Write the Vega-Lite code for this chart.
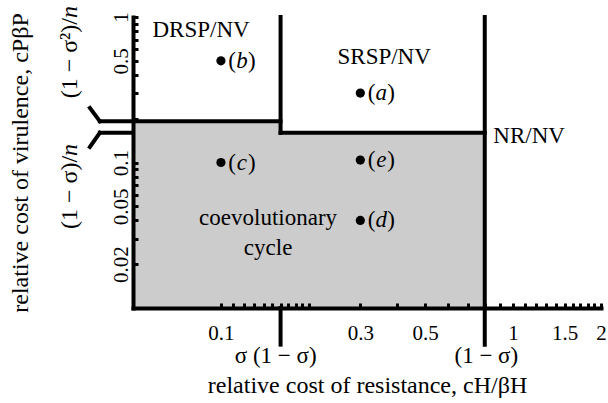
{
  "$schema": "https://vega.github.io/schema/vega-lite/v6.json",
  "width": 468,
  "height": 291,
  "autosize": "none",
  "padding": {"left": 133, "top": 17, "right": 7, "bottom": 95},
  "background": "white",
  "config": {
    "font": "Liberation Serif",
    "view": {"stroke": null},
    "axis": {
      "grid": false,
      "domainColor": "black",
      "domainWidth": 4,
      "domainCap": "square",
      "tickColor": "black",
      "tickWidth": 3,
      "tickSize": -5,
      "labelColor": "black",
      "labelFontSize": 21,
      "labelFlush": false,
      "labelOverlap": false,
      "titleColor": "black",
      "titleFontSize": 24,
      "titleFontWeight": "normal"
    }
  },
  "datasets": {
    "fill": [
      {"x": 0.05, "x2": 0.16, "y": 0.01, "y2": 0.192},
      {"x": 0.05, "x2": 0.8, "y": 0.01, "y2": 0.16}
    ],
    "lines": [
      {"x": 0.0385, "x2": 0.16, "y": 0.192, "y2": 0.192},
      {"x": 0.16, "x2": 0.16, "y": 0.16, "y2": 1},
      {"x": 0.16, "x2": 0.8, "y": 0.16, "y2": 0.16},
      {"x": 0.0385, "x2": 0.05, "y": 0.16, "y2": 0.16},
      {"x": 0.8, "x2": 0.8, "y": 0.0056, "y2": 1},
      {"x": 0.16, "x2": 0.16, "y": 0.0056, "y2": 0.01},
      {"x": 0.0356, "x2": 0.0385, "y": 0.237, "y2": 0.192},
      {"x": 0.0356, "x2": 0.0385, "y": 0.128, "y2": 0.16}
    ],
    "points": [
      {"x": 0.3, "y": 0.3, "l": "a"},
      {"x": 0.1, "y": 0.5, "l": "b"},
      {"x": 0.1, "y": 0.1, "l": "c"},
      {"x": 0.3, "y": 0.04, "l": "d"},
      {"x": 0.3, "y": 0.104, "l": "e"}
    ],
    "regions": [
      {"x": 0.0855, "y": 0.815, "t": "DRSP/NV"},
      {"x": 0.362, "y": 0.528, "t": "SRSP/NV"},
      {"x": 1.135, "y": 0.152, "t": "NR/NV"},
      {"x": 0.145, "y": 0.0413, "t": "coevolutionary"},
      {"x": 0.145, "y": 0.0258, "t": "cycle"}
    ],
    "ylabs": [
      {"x": 0.0304, "y": 0.984, "a": "(1 − σ²)/", "b": "n"},
      {"x": 0.0304, "y": 0.111, "a": "(1 − σ)/", "b": "n"}
    ],
    "xlabs": [
      {"x": 0.154, "y": 0.0047, "t": "σ (1 − σ)"},
      {"x": 0.81, "y": 0.0047, "t": "(1 − σ)"}
    ]
  },
  "encoding": {
    "x": {
      "field": "x",
      "type": "quantitative",
      "scale": {"type": "log", "domain": [0.05, 2], "nice": false},
      "axis": {
        "zindex": 2,
        "values": [0.1, 0.11, 0.12, 0.13, 0.14, 0.15, 0.16, 0.17, 0.18, 0.19, 0.2, 0.3, 0.4, 0.5, 0.6, 0.7, 0.8, 0.9, 1, 1.1, 1.2, 1.3, 1.4, 1.5, 1.6, 1.7, 1.8, 1.9, 2],
        "labelExpr": "indexof([0.1, 0.3, 0.5, 1, 1.5, 2], datum.value) >= 0 ? format(datum.value, '~g') : ''",
        "labelPadding": 19,
        "title": "relative cost of resistance, cH/βH",
        "titlePadding": 30
      }
    },
    "y": {
      "field": "y",
      "type": "quantitative",
      "scale": {"type": "log", "domain": [0.01, 1], "nice": false},
      "axis": {
        "zindex": 2,
        "values": [0.02, 0.03, 0.04, 0.05, 0.06, 0.07, 0.08, 0.09, 0.1, 0.2, 0.3, 0.4, 0.5, 0.6, 0.7, 0.8, 0.9, 1],
        "labelExpr": "indexof([0.02, 0.05, 0.1, 0.5, 1], datum.value) >= 0 ? format(datum.value, '~g') : ''",
        "labelAngle": 270,
        "labelAlign": "center",
        "labelBaseline": "bottom",
        "labelPadding": 7,
        "title": "relative cost of virulence, cPβP",
        "titlePadding": 78
      }
    }
  },
  "layer": [
    {
      "data": {"name": "fill"},
      "mark": {"type": "rect", "color": "#cccccc"},
      "encoding": {"x2": {"field": "x2"}, "y2": {"field": "y2"}}
    },
    {
      "data": {"name": "lines"},
      "mark": {"type": "rule", "color": "black", "strokeWidth": 4, "strokeCap": "square"},
      "encoding": {"x2": {"field": "x2"}, "y2": {"field": "y2"}}
    },
    {
      "data": {"name": "points"},
      "mark": {"type": "circle", "color": "black", "size": 85, "opacity": 1}
    },
    {
      "data": {"name": "points"},
      "mark": {"type": "text", "fontSize": 23, "align": "right", "baseline": "middle", "dx": 15, "color": "black"},
      "encoding": {"text": {"value": "("}}
    },
    {
      "data": {"name": "points"},
      "mark": {"type": "text", "fontSize": 23, "fontStyle": "italic", "align": "center", "baseline": "middle", "dx": 21, "color": "black"},
      "encoding": {"text": {"field": "l"}}
    },
    {
      "data": {"name": "points"},
      "mark": {"type": "text", "fontSize": 23, "align": "left", "baseline": "middle", "dx": 27, "color": "black"},
      "encoding": {"text": {"value": ")"}}
    },
    {
      "data": {"name": "regions"},
      "mark": {"type": "text", "fontSize": 23, "align": "center", "baseline": "middle", "color": "black"},
      "encoding": {"text": {"field": "t"}}
    },
    {
      "data": {"name": "ylabs"},
      "mark": {"type": "text", "fontSize": 24, "angle": 270, "align": "right", "baseline": "middle", "color": "black"},
      "encoding": {"text": {"field": "a"}}
    },
    {
      "data": {"name": "ylabs"},
      "mark": {"type": "text", "fontSize": 24, "angle": 270, "fontStyle": "italic", "align": "left", "baseline": "middle", "color": "black"},
      "encoding": {"text": {"field": "b"}}
    },
    {
      "data": {"name": "xlabs"},
      "mark": {"type": "text", "fontSize": 23, "align": "center", "baseline": "middle", "color": "black"},
      "encoding": {"text": {"field": "t"}}
    }
  ]
}
